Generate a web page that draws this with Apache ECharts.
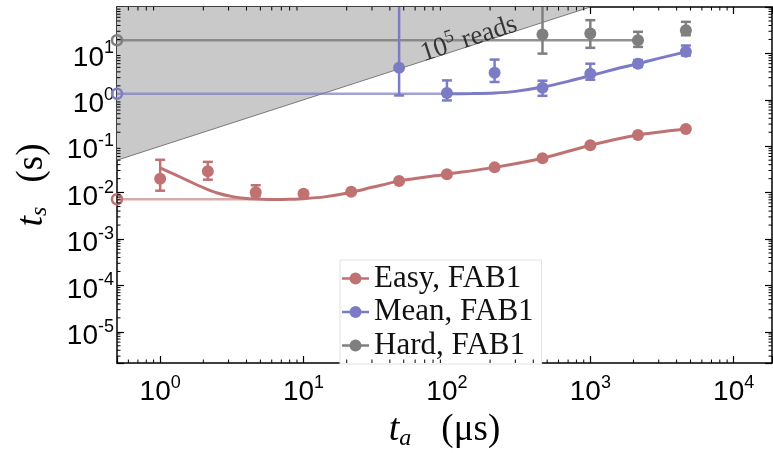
<!DOCTYPE html>
<html><head><meta charset="utf-8">
<script src="https://cdn.jsdelivr.net/npm/echarts@6/dist/echarts.min.js"></script>
<style>html,body{margin:0;padding:0;background:#fff}#c{width:773px;height:453px}</style>
</head><body><div id="c"></div>
<script>
// ---------- data ----------
const xTickExponents = [0, 1, 2, 3, 4];
const yTickExponents = [-5, -4, -3, -2, -1, 0, 1];

const taEasy   = [1, 2.15, 4.64, 10, 21.5, 46.4, 100, 215, 464, 1000, 2150, 4640];
const easyTs   = [0.020, 0.029, 0.0102, 0.0095, 0.0105, 0.0177, 0.025, 0.035, 0.055, 0.105, 0.175, 0.235];
const easyLo   = [0.011, 0.019, 0.0083, 0.0088, 0.0099, 0.0168, 0.0238, 0.0335, 0.053, 0.101, 0.169, 0.228];
const easyHi   = [0.051, 0.046, 0.0144, 0.0104, 0.0111, 0.0186, 0.0262, 0.0366, 0.057, 0.109, 0.181, 0.242];

const taMean   = [46.4, 100, 215, 464, 1000, 2150, 4640];
const meanTs   = [4.93, 1.40, 3.84, 1.82, 3.66, 6.0, 10.9];
const meanLo   = [1.24, 0.97, 2.42, 1.22, 2.71, 5.1, 9.0];
const meanHi   = [300, 2.62, 7.35, 2.58, 6.0, 7.2, 14.8];

const taHard   = [464, 1000, 2150, 4640];
const hardTs   = [25.5, 26.9, 19.2, 31.6];
const hardLo   = [9.9, 13.2, 13.8, 24.6];
const hardHi   = [300, 52, 29.2, 47.9];

const easyFitX = [1, 1.25, 1.6, 2, 2.5, 3.2, 4, 5, 6.5, 8, 10, 14, 21.5, 30, 46.4, 100, 215, 464, 1000, 2150, 4640];
const easyFitY = [0.034, 0.025, 0.0175, 0.0128, 0.0098, 0.0082, 0.0075, 0.0072, 0.0071, 0.0072, 0.0074, 0.0081, 0.0102, 0.013, 0.0177, 0.025, 0.035, 0.055, 0.105, 0.175, 0.235];
const meanFitX = [100, 150, 215, 300, 464, 700, 1000, 1500, 2150, 3000, 4640];
const meanFitY = [1.35, 1.36, 1.40, 1.52, 1.88, 2.5, 3.3, 4.6, 6.0, 7.8, 10.8];

const easyFlatX = [0.5, 4.3];   const easyFlatY = [0.0072, 0.0072];
const meanFlatX = [0.5, 100];   const meanFlatY = [1.35, 1.35];
const hardFlatX = [0.5, 2150];  const hardFlatY = [19.2, 19.2];

const shadeX = [0.5, 1000];     const shadeY = [0.05, 100];   // 10^5 reads boundary
const noteX = [140];            const noteY = [24];

const names = ['Easy, FAB1', 'Mean, FAB1', 'Hard, FAB1'];
// ---------------------------------------------------

const C_EASY = '#c07272', C_MEAN = '#7b7bc6', C_HARD = '#7f7f7f';
const serif = 'Liberation Serif', sans = 'Liberation Sans';
const X_MIN = 0.5, X_MAX = 18500, Y_MIN = 2.13e-6, Y_MAX = 100;

const minorX = [], minorY = [];
for (let d = -1; d <= 4; d++) for (let m = 2; m <= 9; m++) { const v = m * Math.pow(10, d); if (v > X_MIN * 1.001 && v < X_MAX) minorX.push([v, 1]); }
for (let d = -6; d <= 1; d++) for (let m = 2; m <= 9; m++) { const v = m * Math.pow(10, d); if (v > Y_MIN && v < Y_MAX * 0.999) minorY.push([1, v]); }

function powLabel(exps) {
  return function (v) {
    const e = Math.log10(v), r = Math.round(e);
    if (Math.abs(e - r) < 1e-6 && exps.indexOf(r) >= 0) return '{b|10}{s|' + r + '}';
    return '';
  };
}
const labelRich = {
  b: { fontFamily: sans, fontSize: 28, lineHeight: 28, padding: [9, 0, 0, 0], color: '#000' },
  s: { fontFamily: sans, fontSize: 18, lineHeight: 18, verticalAlign: 'top', color: '#000' }
};

const pairs = (xs, ys) => xs.map((v, i) => [v, ys[i]]);

function errRender(params, api) {
  const cs = params.coordSys;
  const x = api.value(0), lo = api.value(1), hi = api.value(2);
  const pLo = api.coord([x, lo]), pHi = api.coord([x, hi]);
  const top = Math.max(pHi[1], cs.y), bot = Math.min(pLo[1], cs.y + cs.height);
  const w = 5;
  const style = { stroke: api.visual('color'), lineWidth: 2.5 };
  const ch = [{ type: 'line', shape: { x1: pLo[0], y1: top, x2: pLo[0], y2: bot }, style }];
  if (pHi[1] >= cs.y) ch.push({ type: 'line', shape: { x1: pLo[0] - w, y1: pHi[1], x2: pLo[0] + w, y2: pHi[1] }, style });
  ch.push({ type: 'line', shape: { x1: pLo[0] - w, y1: pLo[1], x2: pLo[0] + w, y2: pLo[1] }, style });
  return { type: 'group', children: ch };
}
function errSeries(color, xs, lo, hi) {
  return { type: 'custom', renderItem: errRender, itemStyle: { color }, z: 4, silent: true,
    encode: { x: 0, y: [1, 2] }, data: xs.map((v, i) => [v, lo[i], hi[i]]) };
}
function flatSeries(color, xs, ys, op) {
  const d = pairs(xs, ys).map((p, i) => i === 0
    ? { value: p, symbol: 'circle', symbolSize: 10, itemStyle: { color: 'rgba(0,0,0,0)', borderColor: color, borderWidth: 2.5, opacity: 1 } }
    : { value: p, symbol: 'none' });
  return { type: 'line', data: d, z: 2, silent: true, showSymbol: true, clip: false,
    lineStyle: { color, width: 2.5, opacity: op }, itemStyle: { color } };
}
function fitSeries(color, xs, ys) {
  return { type: 'line', data: pairs(xs, ys), smooth: 0.25, symbol: 'none', z: 3, silent: true,
    lineStyle: { color, width: 3 } };
}
function pointSeries(name, color, xs, ys) {
  return { name, type: 'scatter', data: pairs(xs, ys), symbol: 'circle', symbolSize: 12, z: 5,
    itemStyle: { color, opacity: 1 } };
}

const legendIcon = 'path://M0,5.3H27V7.7H0Z M7.5,6.5A6,6,0,1,1,19.5,6.5A6,6,0,1,1,7.5,6.5Z';

const axisBase = {
  type: 'log', logBase: 10, splitLine: { show: false },
  axisLine: { show: true, onZero: false, lineStyle: { color: '#000', width: 1.5 } },
  axisTick: { show: true, inside: true, length: 7, lineStyle: { color: '#000', width: 1.2 } },
  minorTick: { show: false }
};

const option = {
  backgroundColor: '#fff',
  animation: false,
  grid: { left: 117, right: 1, top: 7, bottom: 90, containLabel: false, outerBoundsMode: 'none' },
  xAxis: [
    Object.assign({}, axisBase, {
      position: 'bottom', min: X_MIN, max: X_MAX,
      axisLabel: { formatter: powLabel(xTickExponents), rich: labelRich, margin: 11 },
      name: '{t|t}{sub|a}{p|(μs)}', nameLocation: 'middle', nameGap: 39,
      nameTextStyle: { rich: {
        t: { fontFamily: serif, fontStyle: 'italic', fontSize: 38, lineHeight: 40, color: '#000' },
        sub: { fontFamily: serif, fontStyle: 'italic', fontSize: 24, lineHeight: 20, verticalAlign: 'bottom', color: '#000' },
        p: { fontFamily: serif, fontSize: 37, lineHeight: 40, padding: [0, 0, 0, 30], color: '#000' } } }
    }),
    Object.assign({}, axisBase, { position: 'top', min: X_MIN, max: X_MAX, axisLabel: { show: false } })
  ],
  yAxis: [
    Object.assign({}, axisBase, {
      position: 'left', min: Y_MIN, max: Y_MAX,
      axisLabel: { formatter: powLabel(yTickExponents), rich: labelRich, margin: 3 },
      name: '{t|t}{sub|s}{p|(s)}', nameLocation: 'middle', nameGap: 65,
      nameTextStyle: { rich: {
        t: { fontFamily: serif, fontStyle: 'italic', fontSize: 38, lineHeight: 40, color: '#000' },
        sub: { fontFamily: serif, fontStyle: 'italic', fontSize: 24, lineHeight: 20, verticalAlign: 'bottom', color: '#000' },
        p: { fontFamily: serif, fontSize: 37, lineHeight: 40, padding: [0, 0, 0, 24], color: '#000' } } }
    }),
    Object.assign({}, axisBase, { position: 'right', min: Y_MIN, max: Y_MAX, axisLabel: { show: false } })
  ],
  legend: {
    orient: 'vertical', left: 340, top: 260,
    data: names.map(n => ({ name: n, icon: legendIcon })),
    itemWidth: 27, itemHeight: 13, itemGap: 2.5,
    padding: [3, 8, 3, 2],
    backgroundColor: '#fff', borderColor: '#e2e2e2', borderWidth: 1,
    textStyle: { fontFamily: serif, fontSize: 31, lineHeight: 28, color: '#111' },
    selectedMode: false
  },
  series: [
    { type: 'line', data: pairs(shadeX, shadeY), symbol: 'none', z: 1, silent: true,
      lineStyle: { color: '#7a7a7a', width: 1 },
      areaStyle: { color: '#c9c9c9', opacity: 1, origin: 'end' } },
    { type: 'scatter', data: pairs(noteX, noteY), symbolSize: 1, z: 6, silent: true,
      itemStyle: { color: 'rgba(0,0,0,0)' },
      label: { show: true, position: 'inside', rotate: 18,
        formatter: '{n|10}{s|5}{n| reads}',
        rich: {
          n: { fontFamily: serif, fontSize: 27, lineHeight: 27, padding: [7, 0, 0, 0], color: '#111' },
          s: { fontFamily: serif, fontSize: 18, lineHeight: 18, verticalAlign: 'top', color: '#111' } } } },
    flatSeries(C_EASY, easyFlatX, easyFlatY, 0.6),
    flatSeries(C_MEAN, meanFlatX, meanFlatY, 0.7),
    flatSeries(C_HARD, hardFlatX, hardFlatY, 0.85),
    fitSeries(C_EASY, easyFitX, easyFitY),
    fitSeries(C_MEAN, meanFitX, meanFitY),
    errSeries(C_EASY, taEasy, easyLo, easyHi),
    errSeries(C_MEAN, taMean, meanLo, meanHi),
    errSeries(C_HARD, taHard, hardLo, hardHi),
    pointSeries(names[0], C_EASY, taEasy, easyTs),
    pointSeries(names[1], C_MEAN, taMean, meanTs),
    pointSeries(names[2], C_HARD, taHard, hardTs),
    { type: 'custom', data: minorX, z: 7, silent: true, encode: { x: 0, y: 1 },
      renderItem: function (params, api) {
        const cs = params.coordSys; const x = api.coord([api.value(0), 1])[0];
        const st = { stroke: '#000', lineWidth: 1 };
        return { type: 'group', children: [
          { type: 'line', shape: { x1: x, y1: cs.y + cs.height, x2: x, y2: cs.y + cs.height - 3.5 }, style: st },
          { type: 'line', shape: { x1: x, y1: cs.y, x2: x, y2: cs.y + 3.5 }, style: st } ] };
      } },
    { type: 'custom', data: minorY, z: 7, silent: true, encode: { x: 0, y: 1 },
      renderItem: function (params, api) {
        const cs = params.coordSys; const y = api.coord([1, api.value(1)])[1];
        const st = { stroke: '#000', lineWidth: 1 };
        return { type: 'group', children: [
          { type: 'line', shape: { x1: cs.x, y1: y, x2: cs.x + 3.5, y2: y }, style: st },
          { type: 'line', shape: { x1: cs.x + cs.width, y1: y, x2: cs.x + cs.width - 3.5, y2: y }, style: st } ] };
      } }
  ]
};
const chart = echarts.init(document.getElementById('c'), null, { renderer: 'canvas' });
chart.setOption(option);
</script>
</body></html>
